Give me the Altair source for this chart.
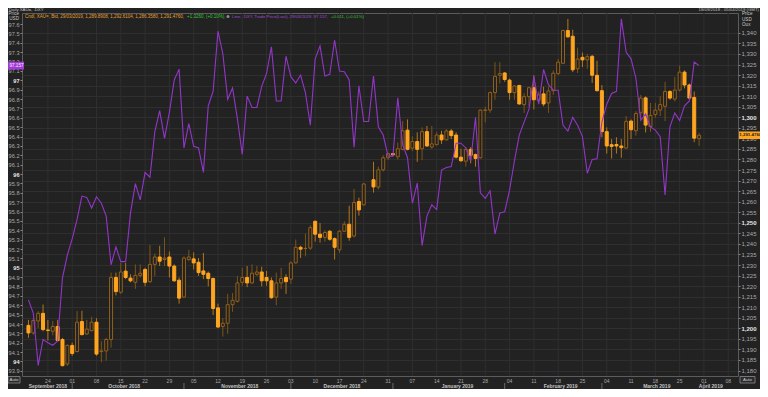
import altair as alt
import pandas as pd

# ---------------- data ----------------
# trading-day slots from 18 Sep 2018 (slot 0) to 29 Mar 2019 (slot 138); slot 70 = 25 Dec (no gold candle)
gold_open = [1201.4, 1197.8, 1203.5, 1207.1, 1199.2, 1198.6, 1200.9, 1194.7, 1183.1, 1191.9,
             1189.0, 1203.2, 1197.3, 1198.9, 1202.9, 1189.0, 1189.3, 1194.7, 1224.1, 1217.1,
             1227.1, 1223.8, 1221.8, 1225.1, 1227.9, 1222.1, 1230.3, 1233.8, 1232.6, 1233.8,
             1229.5, 1222.8, 1214.8, 1232.6, 1232.9, 1231.3, 1227.2, 1226.1, 1223.6, 1209.7,
             1200.9, 1202.4, 1211.2, 1212.8, 1221.8, 1224.1, 1221.5, 1225.6, 1226.7, 1224.1,
             1222.5, 1214.8, 1221.5, 1224.1, 1223.3, 1231.0, 1238.4, 1237.8, 1238.0, 1250.7,
             1244.6, 1243.1, 1246.0, 1242.5, 1237.2, 1246.0, 1249.3, 1243.7, 1260.1, 1258.5,
             None, 1270.4, 1266.9, 1275.1, 1280.8, 1282.8, 1281.3, 1284.8, 1293.9, 1285.4,
             1288.5, 1285.1, 1293.2, 1285.9, 1287.0, 1291.6, 1289.3, 1293.5, 1291.6, 1281.1,
             1279.2, 1284.8, 1282.3, 1280.8, 1303.2, 1303.4, 1311.7, 1319.9, 1321.0, 1317.6,
             1311.7, 1315.1, 1306.0, 1309.8, 1314.0, 1308.0, 1311.1, 1306.8, 1312.6, 1320.7,
             1325.6, 1341.1, 1338.4, 1323.0, 1328.4, 1327.2, 1328.9, 1319.9, 1312.6, 1293.2,
             1287.0, 1287.1, 1286.4, 1285.4, 1298.2, 1293.6, 1302.1, 1309.2, 1295.6, 1301.3,
             1303.4, 1305.2, 1312.2, 1308.6, 1312.9, 1321.4, 1315.3, 1309.4, 1289.89]
gold_high = [1204.0, 1204.8, 1208.1, 1211.3, 1204.0, 1203.5, 1204.0, 1195.5, 1192.4, 1193.2,
             1208.2, 1208.3, 1204.0, 1205.5, 1204.8, 1193.9, 1195.5, 1226.4, 1226.4, 1231.0,
             1231.0, 1225.6, 1230.3, 1230.3, 1228.7, 1239.5, 1235.4, 1239.1, 1243.1, 1236.4,
             1230.3, 1224.1, 1234.1, 1237.2, 1236.0, 1233.3, 1235.7, 1226.9, 1224.1, 1211.7,
             1204.8, 1216.3, 1216.7, 1224.8, 1228.7, 1229.5, 1230.3, 1229.5, 1229.2, 1227.2,
             1224.1, 1226.4, 1228.7, 1225.6, 1231.8, 1242.1, 1239.1, 1244.9, 1248.8, 1251.1,
             1249.9, 1246.5, 1246.5, 1243.1, 1246.5, 1250.7, 1258.1, 1266.1, 1261.9, 1268.9,
             None, 1278.9, 1276.6, 1282.0, 1283.2, 1283.1, 1288.0, 1298.2, 1299.0, 1291.0,
             1292.9, 1295.2, 1295.9, 1295.9, 1292.9, 1293.6, 1294.4, 1294.4, 1292.9, 1285.1,
             1285.9, 1285.9, 1282.8, 1303.7, 1305.0, 1312.2, 1326.1, 1326.1, 1321.4, 1318.3,
             1315.3, 1315.3, 1311.4, 1314.5, 1319.9, 1312.2, 1314.5, 1314.5, 1322.2, 1327.6,
             1341.5, 1346.6, 1341.5, 1333.0, 1330.7, 1329.9, 1329.6, 1326.8, 1315.3, 1295.2,
             1289.7, 1290.5, 1289.7, 1300.6, 1299.0, 1302.9, 1310.6, 1309.9, 1306.8, 1306.8,
             1309.9, 1316.8, 1312.9, 1319.1, 1324.5, 1322.2, 1316.0, 1312.2, 1292.61]
gold_low = [1195.5, 1197.0, 1200.1, 1198.6, 1194.2, 1196.7, 1193.9, 1182.0, 1182.2, 1187.0,
            1188.6, 1196.7, 1197.0, 1198.6, 1187.0, 1183.9, 1184.7, 1190.9, 1215.6, 1216.3,
            1223.3, 1221.8, 1218.7, 1224.1, 1219.9, 1221.5, 1224.8, 1229.5, 1229.5, 1224.1,
            1222.1, 1211.7, 1214.3, 1231.8, 1227.9, 1224.8, 1223.3, 1219.9, 1206.3, 1200.1,
            1196.1, 1197.4, 1207.8, 1212.2, 1220.2, 1219.5, 1221.0, 1224.8, 1219.9, 1220.2,
            1214.0, 1210.9, 1218.7, 1216.3, 1221.0, 1230.7, 1233.3, 1234.1, 1237.2, 1241.1,
            1240.6, 1241.1, 1241.5, 1232.6, 1235.7, 1245.7, 1241.5, 1243.1, 1253.4, 1258.1,
            None, 1264.3, 1265.8, 1274.3, 1279.7, 1281.9, 1280.0, 1284.3, 1284.3, 1284.0,
            1278.9, 1279.7, 1285.9, 1285.1, 1286.7, 1287.4, 1289.0, 1289.7, 1280.5, 1278.9,
            1276.6, 1278.2, 1276.6, 1280.5, 1297.6, 1302.1, 1308.3, 1316.0, 1316.8, 1308.3,
            1308.3, 1306.0, 1302.1, 1305.2, 1303.7, 1306.8, 1305.2, 1302.1, 1310.6, 1319.9,
            1325.3, 1337.7, 1321.4, 1321.0, 1323.8, 1323.0, 1316.3, 1312.2, 1290.5, 1282.8,
            1280.5, 1282.8, 1280.8, 1285.1, 1289.7, 1291.3, 1299.8, 1292.8, 1293.1, 1299.8,
            1300.6, 1298.2, 1308.3, 1307.5, 1312.2, 1313.7, 1308.3, 1288.2, 1286.36]
gold_close = [1197.8, 1203.7, 1207.1, 1199.4, 1199.0, 1200.9, 1194.2, 1182.3, 1191.9, 1188.1,
              1202.9, 1197.0, 1199.6, 1202.9, 1187.8, 1189.3, 1194.7, 1224.1, 1217.4, 1226.7,
              1224.1, 1222.5, 1225.1, 1226.1, 1221.8, 1230.3, 1233.8, 1231.8, 1233.3, 1229.5,
              1222.5, 1214.3, 1233.3, 1233.8, 1231.0, 1226.4, 1225.6, 1223.6, 1209.4, 1200.6,
              1202.4, 1211.2, 1213.3, 1221.5, 1224.1, 1221.5, 1226.1, 1226.7, 1222.5, 1222.5,
              1214.5, 1221.5, 1223.6, 1222.1, 1231.0, 1238.4, 1237.5, 1237.9, 1247.7, 1244.6,
              1243.1, 1245.4, 1242.2, 1238.4, 1246.0, 1249.3, 1243.1, 1259.6, 1256.1, 1268.4,
              None, 1267.0, 1275.1, 1280.8, 1282.8, 1282.2, 1285.1, 1293.6, 1284.8, 1288.5,
              1284.8, 1293.2, 1286.4, 1287.4, 1291.6, 1289.3, 1293.5, 1291.3, 1281.1, 1279.4,
              1284.8, 1282.0, 1280.5, 1303.4, 1303.5, 1311.7, 1319.4, 1320.7, 1317.9, 1311.7,
              1314.8, 1306.3, 1309.8, 1314.0, 1308.3, 1310.6, 1306.3, 1312.5, 1320.9, 1326.1,
              1341.1, 1338.1, 1322.5, 1327.6, 1327.2, 1328.7, 1319.9, 1312.6, 1293.2, 1286.4,
              1286.2, 1286.4, 1285.6, 1298.1, 1294.1, 1301.8, 1309.1, 1296.3, 1300.9, 1303.4,
              1306.0, 1312.2, 1309.1, 1312.9, 1321.4, 1315.3, 1309.1, 1290.1, 1291.476]
dxy = [94.658, 94.513, 93.959, 94.236, 94.201, 94.173, 94.218, 94.893, 95.135, 95.308,
       95.516, 95.765, 95.751, 95.637, 95.758, 95.689, 95.551, 95.032, 95.222, 95.066,
       95.066, 95.585, 95.897, 95.724, 96.018, 95.966, 96.451, 96.676, 96.381, 96.658,
       97.004, 97.119, 96.278, 96.537, 96.295, 96.278, 96.018, 96.728, 96.883, 97.524,
       97.281, 96.797, 96.918, 96.589, 96.208, 96.831, 96.710, 96.710, 96.935, 97.074,
       97.357, 96.779, 96.779, 97.257, 97.039, 96.970, 97.056, 96.866, 96.520, 97.229,
       97.368, 97.046, 97.063, 97.430, 97.098, 97.091, 97.004, 96.285, 96.942, 96.561,
       96.561, 97.046, 96.503, 96.416, 96.191, 96.191, 96.814, 96.312, 96.174, 95.689,
       95.904, 95.239, 95.551, 95.672, 95.620, 96.042, 96.070, 96.080, 96.329, 96.329,
       96.278, 96.139, 96.606, 95.800, 95.741, 95.821, 95.360, 95.585, 95.596, 95.828,
       96.139, 96.416, 96.554, 96.693, 97.039, 96.745, 97.115, 96.953, 96.894, 96.894,
       96.520, 96.458, 96.606, 96.520, 96.399, 96.008, 96.156, 96.163, 96.554, 96.745,
       96.859, 96.883, 97.655, 97.299, 97.229, 97.022, 96.572, 96.641, 96.503, 96.468,
       96.399, 95.776, 96.503, 96.651, 96.572, 96.728, 96.779, 97.195, 97.157]

week_slots = [4, 9, 14, 19, 24, 29, 34, 39, 44, 49, 54, 59, 64, 69, 74, 79, 84, 89, 94,
              99, 104, 109, 114, 119, 124, 129, 134, 139, 144]
week_labels = ["24", "01", "08", "15", "22", "29", "05", "12", "19", "26", "03", "10", "17",
               "24", "31", "07", "14", "21", "28", "04", "11", "18", "25", "04", "11", "18",
               "25", "01", "08"]
month_names = ["September 2018", "October 2018", "November 2018", "December 2018",
               "January 2019", "February 2019", "March 2019", "April 2019"]
month_centres = [4.0, 19.7, 43.5, 64.5, 88.3, 109.5, 129.3, 140.4]
month_starts = [9, 32, 54, 75, 98, 118, 139]

dxy_ticks = [round(93.9 + 0.1 * k, 1) for k in range(38)]
gold_ticks = list(range(1180, 1345, 5))

# ---------------- tables ----------------
rows = []
for i, (o, h, l, c) in enumerate(zip(gold_open, gold_high, gold_low, gold_close)):
    if o is None:
        continue
    rows.append({"i": i, "o": o, "h": h, "l": l, "c": c, "dir": "up" if c >= o else "down"})
gold_df = pd.DataFrame(rows)
dxy_df = pd.DataFrame({"i": list(range(len(dxy))), "v": dxy})
week_df = pd.DataFrame({"w": week_slots, "lab": week_labels})
month_df = pd.DataFrame({"pos": month_centres, "name": month_names})
sep_df = pd.DataFrame({"s": month_starts})
one = pd.DataFrame({"a": [0]})

# ---------------- style ----------------
BG = "#222222"
GRID = "#2f2f2f"
LAB = "#a9a9a9"
ORANGE = "#ffa51f"
HOLLOW = "#93601a"
PURPLE = "#9236c8"
GREEN = "#35c235"
FONT = "Liberation Sans"

W, H = 716, 363
xs = alt.Scale(domain=[-0.3, 144.98], nice=False, zero=False)
gs = alt.Scale(domain=[1177.41, 1349.41], nice=False, zero=False)
ds = alt.Scale(domain=[93.8453, 97.718], nice=False, zero=False)

x_axis = alt.Axis(values=week_slots, labels=False, title=None, grid=False, tickSize=2,
                  tickColor="#777777", domain=False)

gold_axis = alt.Axis(orient="right", values=gold_ticks, format=",d", title=None, grid=True,
                     gridColor=GRID, labelFontSize=6, tickSize=2, tickColor="#888888",
                     labelPadding=1, domain=False, labelFlush=False, labelOverlap=False,
                     labelFont=FONT,
                     labelColor={"condition": {"test": "datum.value % 50 === 0", "value": "#e6e6e6"},
                                 "value": LAB},
                     labelFontWeight={"condition": {"test": "datum.value % 50 === 0", "value": "bold"},
                                      "value": "normal"})

dxy_axis = alt.Axis(orient="left", values=dxy_ticks, title=None, grid=False,
                    labelExpr="replace(format(datum.value, '.1f'), '.0', '')",
                    labelFontSize=5.6, tickSize=2, tickColor="#888888", labelPadding=1,
                    domain=False, labelFlush=False, labelOverlap=False, labelFont=FONT,
                    labelColor={"condition": {"test": "abs(datum.value - round(datum.value)) < 0.001",
                                              "value": "#e6e6e6"}, "value": LAB},
                    labelFontWeight={"condition": {"test": "abs(datum.value - round(datum.value)) < 0.001",
                                                   "value": "bold"}, "value": "normal"})

dir_scale_wick = alt.Scale(domain=["up", "down"], range=["#7c5416", "#b3771a"])
dir_scale_fill = alt.Scale(domain=["up", "down"], range=[BG, ORANGE])
dir_scale_stroke = alt.Scale(domain=["up", "down"], range=[HOLLOW, ORANGE])

# weekly vertical grid
vgrid = alt.Chart(week_df).mark_rule(color=GRID, strokeWidth=1).encode(
    x=alt.X("w:Q", scale=xs, axis=x_axis), y=alt.value(0), y2=alt.value(H))

base_gold = alt.Chart(gold_df)
wicks = base_gold.mark_rule(strokeWidth=1).encode(
    x=alt.X("i:Q", scale=xs, axis=None),
    y=alt.Y("l:Q", scale=gs, axis=gold_axis),
    y2="h:Q",
    color=alt.Color("dir:N", scale=dir_scale_wick, legend=None),
)
bodies = base_gold.mark_bar(size=3, strokeWidth=1).encode(
    x=alt.X("i:Q", scale=xs, axis=None),
    y=alt.Y("o:Q", scale=gs, axis=gold_axis),
    y2="c:Q",
    fill=alt.Fill("dir:N", scale=dir_scale_fill, legend=None),
    stroke=alt.Stroke("dir:N", scale=dir_scale_stroke, legend=None),
)
last_close = gold_close[-1]
gold_box = alt.Chart(one).mark_rect(color=ORANGE).encode(
    y=alt.Y(datum=last_close + 1.8, scale=gs, axis=gold_axis), y2=alt.Y2(datum=last_close - 1.8),
    x=alt.value(W + 1), x2=alt.value(W + 24))
gold_tag = alt.Chart(one).mark_text(align="left", baseline="middle", fontSize=4.4,
                                    font=FONT, fontWeight="bold", color="#1b1b1b").encode(
    y=alt.Y(datum=last_close, scale=gs, axis=gold_axis), x=alt.value(W + 1.3),
    text=alt.value("{:,.4f}".format(last_close)))
gold_layer = alt.layer(wicks, bodies, gold_box, gold_tag)

last_dxy = dxy[-1]
line = alt.Chart(dxy_df).mark_line(color=PURPLE, strokeWidth=1.1).encode(
    x=alt.X("i:Q", scale=xs, axis=None),
    y=alt.Y("v:Q", scale=ds, axis=dxy_axis),
)
dxy_box = alt.Chart(one).mark_rect(color="#a23ad8").encode(
    y=alt.Y(datum=last_dxy + 0.042, scale=ds, axis=dxy_axis), y2=alt.Y2(datum=last_dxy - 0.042),
    x=alt.value(-14), x2=alt.value(2))
dxy_tag = alt.Chart(one).mark_text(align="right", baseline="middle", fontSize=4.6,
                                   font=FONT, color="#f2f2f2").encode(
    y=alt.Y(datum=last_dxy, scale=ds, axis=dxy_axis), x=alt.value(1.5),
    text=alt.value("%.3f" % last_dxy))
dxy_layer = alt.layer(line, dxy_box, dxy_tag)

# date rows under the axis
days = alt.Chart(week_df).mark_text(fontSize=5, font=FONT, color=LAB, baseline="middle").encode(
    x=alt.X("w:Q", scale=xs, axis=None), y=alt.value(H + 4.5), text="lab:N")
months = alt.Chart(month_df).mark_text(fontSize=5, font=FONT, fontWeight="bold",
                                        color="#c4c4c4", baseline="middle").encode(
    x=alt.X("pos:Q", scale=xs, axis=None), y=alt.value(H + 10), text="name:N")
seps = alt.Chart(sep_df).mark_rule(color="#6a6a6a", strokeWidth=1).encode(
    x=alt.X("s:Q", scale=xs, axis=None), y=alt.value(H + 7), y2=alt.value(H + 13))


def txt(s, x, y, color="#c8c8c8", size=4.5, align="left", weight="normal"):
    return alt.Chart(pd.DataFrame({"t": [s]})).mark_text(
        align=align, baseline="middle", fontSize=size, font=FONT, color=color,
        fontWeight=weight).encode(x=alt.value(x), y=alt.value(y), text="t:N")


def box(x1, x2, y1, y2):
    return alt.Chart(one).mark_rect(
        fill="#2c2c2c", stroke="#8a8a8a", strokeWidth=0.8).encode(
        x=alt.value(x1), x2=alt.value(x2), y=alt.value(y1), y2=alt.value(y2))


icon = alt.Chart(one).mark_point(shape="circle", filled=True, size=9, color="#bdbdbd").encode(
    x=alt.value(206), y=alt.value(3.6))

annotations = [
    txt("Daily XAU=, .DXY", -13, -3.5, size=4.3),
    txt("18/09/2018 - 05/04/2019 (GMT)", 737, -3.5, size=4.3, align="right"),
    txt("Cndl, XAU=, Bid, 29/03/2019, 1,289.8908, 1,292.6104, 1,286.3580, 1,291.4760,",
        3, 3.5, color="#e3a12f"),
    txt("+1.3260, (+0.10%),", 165, 3.5, color=GREEN),
    icon,
    txt("Line, .DXY, Trade Price(Last), 29/03/2019, 97.157,", 210, 3.5, color="#a24ad8", size=4.3),
    txt("+0.011, (+0.01%)", 309, 3.5, color=GREEN, size=4.3),
    txt("Price", -3, 0.5, size=4.6, align="right"),
    txt("USD", -3, 5.5, size=4.6, align="right"),
    txt("Price", 720, 1, size=4.6),
    txt("USD", 720, 6.5, size=4.6),
    txt("Oux", 720, 12, size=4.6),
    box(-14, -2, H + 0.5, H + 7),
    txt("Auto", -8, H + 3.8, size=4.4, align="center", color="#d0d0d0"),
    box(718, 733, H + 0.5, H + 7),
    txt("Auto", 725.5, H + 3.8, size=4.4, align="center", color="#d0d0d0"),
]

chart = alt.layer(vgrid, gold_layer, dxy_layer, days, months, seps, *annotations).resolve_scale(
    y="independent"
).properties(
    width=W, height=H, background=BG,
    padding={"left": 14, "top": 5, "right": 22, "bottom": 13},
    autosize=alt.AutoSizeParams(type="none"),
).configure_view(stroke="#5c5c5c", strokeWidth=1)

chart.save("out.html", embed_options={"renderer": "svg", "actions": False})
